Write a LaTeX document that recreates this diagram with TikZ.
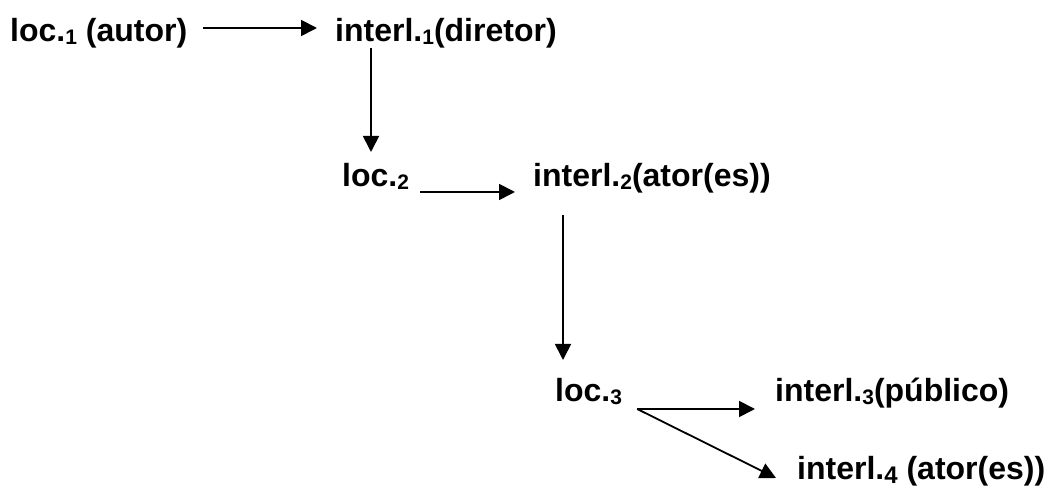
\documentclass[tikz,border=0pt]{standalone}
\usepackage{fontspec}
\setmainfont{Liberation Sans}
\usetikzlibrary{arrows.meta}
\newcommand\subidx[1]{\raisebox{-3pt}{\fontsize{21}{21}\selectfont #1}}
\newcommand\subbig[1]{\raisebox{-4pt}{\fontsize{24}{24}\selectfont #1}}
\begin{document}
\begin{tikzpicture}[x=1pt,y=1pt,
  lbl/.style={inner sep=0pt,anchor=base west,font=\fontsize{32}{34}\selectfont\bfseries},
  arr/.style={line width=1.8pt,-{Triangle[length=16pt,width=16pt]}}]
\useasboundingbox (0,0) rectangle (1045,487);
% labels, placed by their base lines
\node[lbl] (loc1) at (10,445) {loc.\subidx{1} (autor)};
\node[lbl] (int1) at (335,445) {interl.\subidx{1}(diretor)};
\node[lbl] (loc2) at (342,300) {loc.\subidx{2}};
\node[lbl] (int2) at (533,300) {interl.\subidx{2}(ator(es))};
\node[lbl] (loc3) at (555,85) {loc.\subidx{3}};
\node[lbl] (int3) at (775,85) {interl.\subidx{3}(público)};
\node[lbl] (int4) at (797,7) {interl.\subbig{4} (ator(es))};
% connector end points
\coordinate (a1s) at ([shift={(16pt,14pt)}]loc1.base east);
\coordinate (a1e) at ([shift={(-18pt,14pt)}]int1.base west);
\coordinate (v1s) at ([shift={(36pt,-6pt)}]int1.base west);
\coordinate (v1e) at ([yshift=35pt]loc2.base);
\coordinate (a2s) at ([shift={(11pt,-5pt)}]loc2.base east);
\coordinate (a2e) at ([shift={(-18pt,-5pt)}]int2.base west);
\coordinate (v2s) at ([shift={(30pt,-28pt)}]int2.base west);
\coordinate (v2e) at ([yshift=42pt]loc3.base);
\coordinate (a3s) at ([shift={(15pt,-7pt)}]loc3.base east);
\coordinate (a3e) at ([shift={(-20pt,-7pt)}]int3.base west);
\coordinate (a4e) at ([shift={(-21pt,2pt)}]int4.base west);
% connectors
\draw[arr] (a1s) -- (a1e);
\draw[arr] (v1s) -- (v1s |- v1e);
\draw[arr] (a2s) -- (a2e);
\draw[arr] (v2s) -- (v2s |- v2e);
\draw[arr] (a3s) -- (a3e);
\draw[arr] (a3s) -- (a4e);
\end{tikzpicture}
\end{document}
